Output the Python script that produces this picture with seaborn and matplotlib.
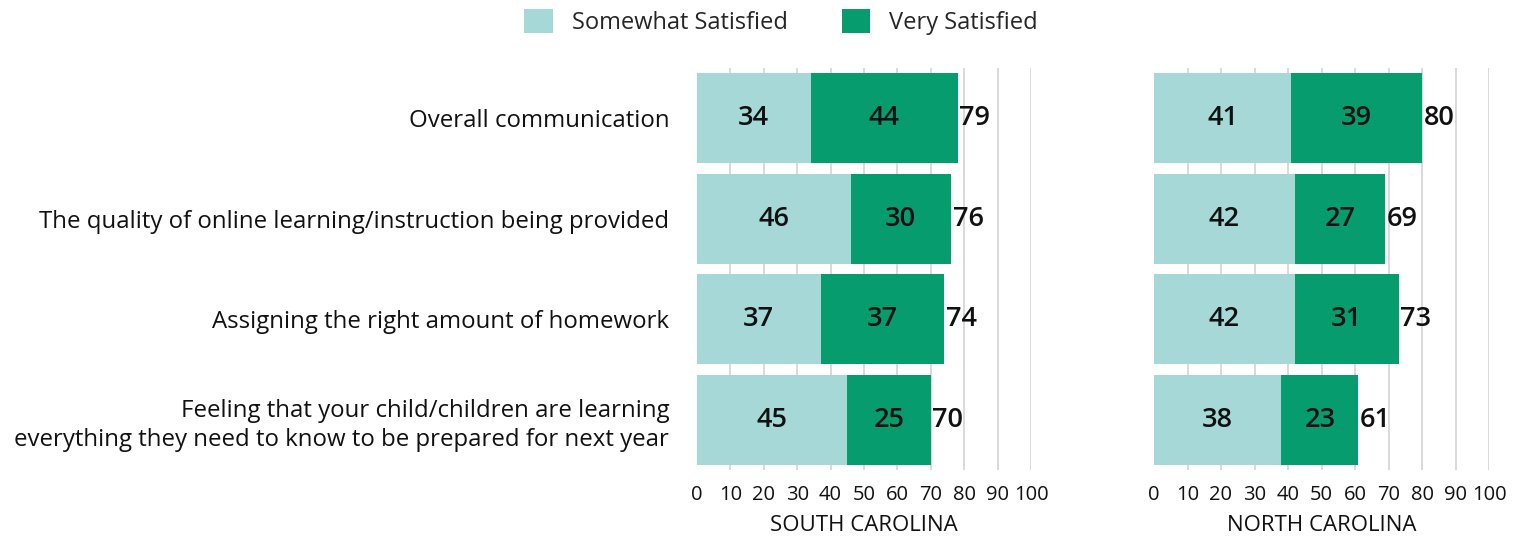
import matplotlib
matplotlib.use("Agg")
import matplotlib.pyplot as plt
from matplotlib.patches import Patch
import seaborn as sns
import pandas as pd

categories = [
    "Overall communication",
    "The quality of online learning/instruction being provided",
    "Assigning the right amount of homework",
    "Feeling that your child/children are learning\neverything they need to know to be prepared for next year",
]
sc_somewhat = [34, 46, 37, 45]
sc_very = [44, 30, 37, 25]
sc_total = [79, 76, 74, 70]
nc_somewhat = [41, 42, 42, 38]
nc_very = [39, 27, 31, 23]
nc_total = [80, 69, 73, 61]
x_ticks = [0, 10, 20, 30, 40, 50, 60, 70, 80, 90, 100]
series_names = ["Somewhat Satisfied", "Very Satisfied"]
state_names = ["SOUTH CAROLINA", "NORTH CAROLINA"]

LIGHT = "#a6d8d8"
GREEN = "#069c6e"
TEXT = "#111111"
FONT = "Open Sans"

sns.set_theme(style="white")
plt.rcParams["font.family"] = [FONT, "DejaVu Sans"]

fig = plt.figure(figsize=(15.16, 5.39), dpi=100)
W, H = 1516, 539
ax_left = fig.add_axes([697 / W, (H - 470) / H, 334 / W, 402 / H])
ax_right = fig.add_axes([1154 / W, (H - 470) / H, 335 / W, 402 / H])


def draw_state(ax, somewhat, very, total, title, show_labels):
    df = pd.DataFrame({
        "category": categories,
        "somewhat": somewhat,
        "stacked": [s + v for s, v in zip(somewhat, very)],
    })
    # vertical reference lines behind the bars (none at zero)
    for t in x_ticks[1:]:
        ax.axvline(t, color="#cfcfcf", lw=1.1, zorder=0)
    sns.barplot(data=df, y="category", x="stacked", orient="h", color=GREEN,
                width=0.9, saturation=1, linewidth=0, ax=ax, zorder=2)
    sns.barplot(data=df, y="category", x="somewhat", orient="h", color=LIGHT,
                width=0.9, saturation=1, linewidth=0, ax=ax, zorder=3)
    vfont = dict(fontsize=19.5, fontweight="semibold", color=TEXT, zorder=4,
                 va="center")
    for i, (s, v, t) in enumerate(zip(somewhat, very, total)):
        ax.text(s / 2, i, f"{s}", ha="center", **vfont)
        ax.text(s + v / 2, i, f"{v}", ha="center", **vfont)
        ax.text(s + v + 0.5, i, f"{t}", ha="left", **vfont)
    ax.set_xlim(0, 100)
    ax.set_ylim(3.5, -0.5)
    ax.set_xticks(x_ticks)
    ax.set_xticklabels([str(t) for t in x_ticks], fontsize=14.5,
                       fontweight="medium", color=TEXT)
    ax.tick_params(axis="x", length=0, pad=11)
    ax.tick_params(axis="y", length=0, pad=20)
    ax.set_xlabel(title, fontsize=16, fontweight="medium", color=TEXT,
                  labelpad=7)
    ax.set_ylabel("")
    if show_labels:
        ax.set_yticks(range(len(categories)))
        ax.set_yticklabels(categories, fontsize=17.3, fontweight="medium",
                           color=TEXT, multialignment="right",
                           linespacing=1.3)
    else:
        ax.set_yticks([])
    for sp in ax.spines.values():
        sp.set_visible(False)
    ax.set_facecolor("none")


draw_state(ax_left, sc_somewhat, sc_very, sc_total, state_names[0], True)
draw_state(ax_right, nc_somewhat, nc_very, nc_total, state_names[1], False)

handles = [Patch(facecolor=LIGHT, edgecolor="none"),
           Patch(facecolor=GREEN, edgecolor="none")]
fig.legend(handles, series_names, loc="center", bbox_to_anchor=(781 / W, 1 - 22 / H),
           ncol=2, frameon=False, handlelength=1.2, handleheight=1.2,
           handletextpad=0.8, columnspacing=2.3,
           prop={"family": [FONT, "DejaVu Sans"], "weight": "medium", "size": 17})

fig.savefig("out.png", dpi=100, facecolor="white")
